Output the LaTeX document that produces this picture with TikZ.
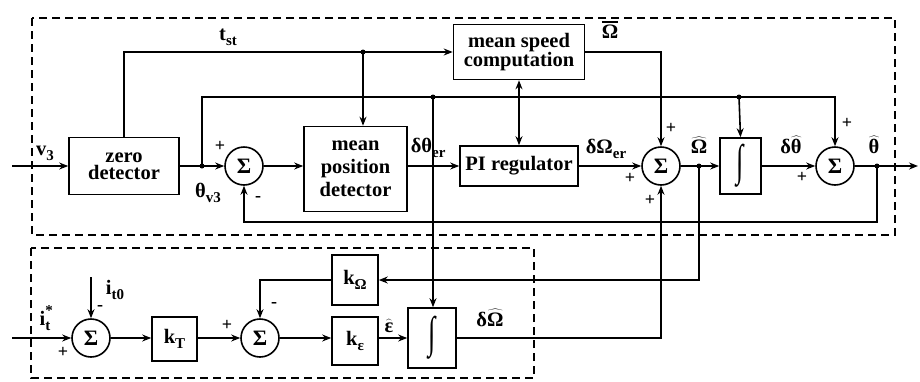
\documentclass[tikz,border=0pt]{standalone}
\usepackage{fontspec}
\setmainfont{Liberation Serif}[BoldFont={Liberation Serif Bold}]
\usetikzlibrary{arrows.meta}
\newcommand\lo[1]{\raisebox{-0.55ex}{\fontsize{15}{15}\selectfont #1}}
\newcommand\hatt[1]{$\widehat{\hbox{#1}}$}
\newcommand\ovl[1]{\vbox{\hrule height 1.6pt\kern2pt\hbox{#1}}}
\newcommand\integ{\scalebox{1.2}[2.0]{\fontsize{22}{22}\selectfont\bfseries ∫}}
\begin{document}
\begin{tikzpicture}[x=1pt,y=-1pt,line width=1.6pt,
  >={Stealth[length=9pt,width=7pt]},
  txt/.style={font=\fontsize{20.5}{17}\selectfont\bfseries},
  blk/.style={draw,rectangle,inner sep=0pt,align=center,txt},
  sumc/.style={draw,circle,minimum size=38pt,inner sep=0pt,font=\fontsize{22}{22}\selectfont\bfseries},
  lbl/.style={inner sep=0pt,txt},
  sgn/.style={inner sep=0pt,font=\fontsize{18}{18}\selectfont\bfseries},
  dot/.style={circle,fill,inner sep=0pt,minimum size=5pt},
  frame/.style={draw,line width=1.1pt,dash pattern=on 8pt off 5pt}]
\useasboundingbox (0,0) rectangle (920,381);
% frames
\draw[frame] (32,18) rectangle (895,235);
\draw[frame] (31,248) rectangle (534,378);
% upper blocks
\node[blk,minimum width=110pt,minimum height=57pt] (zd) at (124,166) {zero\\detector};
\node[sumc] (s1) at (244,166) {Σ};
\node[blk,minimum width=103pt,minimum height=85pt,font=\fontsize{20.5}{23}\selectfont\bfseries] (mpd) at (355.5,169) {mean\\position\\detector};
\node[blk,minimum width=131pt,minimum height=55pt,font=\fontsize{20.5}{19}\selectfont\bfseries] (msc) at (519,52) {mean speed\\computation};
\node[blk,minimum width=118pt,minimum height=40pt] (pi) at (519,166) {PI regulator};
\node[sumc] (s2) at (661,166) {Σ};
\node[blk,minimum width=41pt,minimum height=56pt] (int1) at (740.5,166) {\integ};
\node[sumc] (s3) at (835,166) {Σ};
% lower blocks
\node[sumc] (s4) at (91,338) {Σ};
\node[blk,minimum width=45pt,minimum height=44pt] (kT) at (174.5,339) {k\lo{T}};
\node[sumc] (s5) at (260,338) {Σ};
\node[blk,minimum width=46pt,minimum height=50pt] (kO) at (355,280) {k\lo{Ω}};
\node[blk,minimum width=46pt,minimum height=48pt] (kE) at (355,341) {k\lo{ε}};
\node[blk,minimum width=48pt,minimum height=60pt] (int2) at (432,338) {\integ};
% coordinates
\coordinate (in1) at (12,166);
\coordinate (j1) at (202,166);
\coordinate (jt) at (363,52);
\coordinate (ja) at (433,97);
\coordinate (jb) at (739,97);
\coordinate (jO) at (699,166);
\coordinate (jth) at (877,166);
\coordinate (out) at (918,166);
\coordinate (fb) at (244,222);
\coordinate (in2) at (12,338);
\coordinate (it0) at (91,277);
% upper connectors
\draw[->] (in1) -- (zd.west);
\draw (zd.east) -- (j1);
\draw[->] (j1) -- (s1.west);
\draw (zd.north) |- (jt);
\draw[->] (jt) -- (msc.west);
\draw[->] (jt) -- (jt |- mpd.north);
\draw[->] (j1) |- (ja) -- (jb) -| (s3.north);
\draw[->] (jb) -- (int1.north);
\draw[->] (ja) -- (ja |- int2.north);
\draw[->] (s1.east) -- (s1.east -| mpd.west);
\draw[->] (mpd.east |- pi.west) -- (pi.west);
\draw[<->] (msc.south) -- (pi.north);
\draw[->] (pi.east) -- (s2.west);
\draw[->] (msc.east) -| (s2.north);
\draw (s2.east) -- (jO);
\draw[->] (jO) -- (int1.west);
\draw[->] (int1.east) -- (s3.west);
\draw[->] (s3.east) -- (out);
\draw[->] (jth) |- (fb) -- (s1.south);
\draw[->] (jO) |- (kO.east);
% lower connectors
\draw[->] (in2) -- (s4.west);
\draw[->] (it0) -- (s4.north);
\draw[->] (s4.east) -- (s4.east -| kT.west);
\draw[->] (kT.east |- s5.west) -- (s5.west);
\draw[->] (kO.west) -| (s5.north);
\draw[->] (s5.east) -- (s5.east -| kE.west);
\draw[->] (kE.east |- int2.west) -- (int2.west);
\draw[->] (int2.east) -| (s2.south);
% dots
\foreach \p in {j1,jt,ja,jb,jO,jth} \node[dot] at (\p) {};
% labels
\node[lbl] (lv3) at (45,153) {v\lo{3}};
\node[lbl] (ltst) at (228,37) {t\lo{st}};
\node[lbl] (lthv) at (208,193) {θ\lo{v3}};
\node[sgn] (p1) at (220,146) {+};
\node[sgn] (m1) at (258,199) {-};
\node[lbl,anchor=west] (lder) at (410,148) {δθ\lo{er}};
\node[lbl] (lOb) at (610,30) {\ovl{Ω}};
\node[lbl] (ldOer) at (606,149) {δΩ\lo{er}};
\node[sgn] (p2a) at (671,128) {+};
\node[sgn] (p2b) at (630,178) {+};
\node[sgn] (p2c) at (650,200) {+};
\node[lbl] (lOh) at (699,145) {\hatt{Ω}};
\node[lbl] (ldth) at (791,145) {δ\hatt{θ}};
\node[sgn] (p3a) at (802,177) {+};
\node[sgn] (p3b) at (847,123) {+};
\node[lbl] (lth) at (874,145) {\hatt{θ}};
\node[lbl] (lit) at (45,318) {i\rlap{\raisebox{1.1ex}{\fontsize{15}{15}\selectfont *}}\lo{t}};
\node[sgn] (p4) at (63,352) {+};
\node[lbl] (lit0) at (115,290) {i\lo{t0}};
\node[sgn] (m4) at (100,308) {-};
\node[sgn] (p5) at (227,325) {+};
\node[sgn] (m5) at (274,305) {-};
\node[lbl] (leh) at (389,326) {\hatt{ε}};
\node[lbl] (ldOh) at (490,318) {δ\hatt{Ω}};
\end{tikzpicture}
\end{document}
